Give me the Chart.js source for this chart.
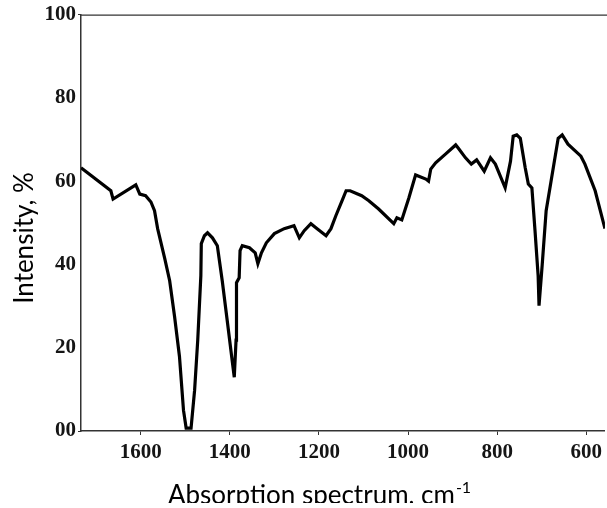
<!DOCTYPE html>
<html>
<head>
<meta charset="utf-8">
<script src="https://cdn.jsdelivr.net/npm/chart.js@4.4.1/dist/chart.umd.min.js"></script>
<style>
  html, body { margin: 0; padding: 0; background: #ffffff; }
  #wrap { width: 607px; height: 508px; position: relative; overflow: hidden; }
  canvas { display: block; }
</style>
</head>
<body>
<div id="wrap"><canvas id="c" width="607" height="508"></canvas></div>
<script>
// Wavenumbers (cm-1)
const wavenumbers = [1734,1667,1662,1611,1602,1589,1577,1569,1562,1546,1535,1524,1513,1504,1498,1487,1479,1472,1465,1464,1457,1450,1439,1428,1417,1405,1394,1390,1386,1385,1379,1377,1372,1356,1343,1337,1329,1318,1300,1278,1256,1244,1233,1218,1204,1184,1173,1162,1148,1139,1130,1104,1088,1066,1032,1025,1014,998,983,960,954,949,938,916,893,887,871,858,846,829,815,804,782,770,764,756,748,737,730,722,715,708,706,699,690,679,663,654,641,612,603,580,558];
// Intensity (%)
const intensity = [63.2,57.7,55.7,59.1,56.9,56.5,55.0,52.9,48.6,41.4,36.1,27.5,17.9,5.0,0.7,0.7,9.8,21.8,37.3,45.0,46.9,47.6,46.4,44.5,36.1,25.8,16.3,12.9,21.8,35.6,36.8,43.3,44.5,44.0,42.8,40.2,42.8,45.2,47.4,48.6,49.3,46.4,48.1,49.8,48.6,46.9,48.6,51.7,55.3,57.7,57.7,56.5,55.3,53.3,49.8,51.2,50.7,56.0,61.5,60.5,60.0,62.9,64.4,66.5,68.7,67.9,65.6,64.1,65.1,62.4,65.6,64.1,58.4,64.8,70.8,71.1,70.3,63.2,59.3,58.4,48.1,37.3,30.1,39.7,52.9,60.0,70.3,71.1,68.9,66.0,64.1,57.7,48.6];
// Axis tick values
const xTicks = [1600,1400,1200,1000,800,600];
const yTicks = [0,20,40,60,80,100];
const xTitle = "Absorption spectrum, cm";
const xTitleSup = "-1";
const yTitle = "Intensity, %";

const points = wavenumbers.map((w, i) => ({ x: w, y: intensity[i] }));

const titlesPlugin = {
  id: 'titles',
  afterDraw(chart) {
    const ctx = chart.ctx;
    const a = chart.chartArea;
    ctx.save();
    // top frame line
    ctx.strokeStyle = '#333333';
    ctx.lineWidth = 1.2;
    ctx.beginPath();
    ctx.moveTo(a.left, a.top + 0.5);
    ctx.lineTo(chart.width, a.top + 0.5);
    ctx.stroke();
    ctx.restore();

    // x title (bottom of the picture cuts it, as in the reference)
    ctx.save();
    ctx.beginPath();
    ctx.rect(0, 0, chart.width, 503);
    ctx.clip();
    ctx.fillStyle = '#000000';
    ctx.font = '26px Lato';
    ctx.textBaseline = 'alphabetic';
    ctx.textAlign = 'left';
    const w = ctx.measureText(xTitle).width;
    const x0 = 168;
    ctx.fillText(xTitle, x0, 504);
    ctx.font = '16px Lato';
    ctx.fillText(xTitleSup, x0 + w + 1, 493);
    ctx.restore();

    // y title
    ctx.save();
    ctx.fillStyle = '#000000';
    ctx.translate(33, 238);
    ctx.rotate(-Math.PI / 2);
    ctx.font = '26px Lato';
    ctx.textAlign = 'center';
    ctx.textBaseline = 'alphabetic';
    ctx.fillText(yTitle, 0, 0);
    ctx.restore();
  }
};

new Chart(document.getElementById('c'), {
  type: 'scatter',
  data: {
    datasets: [{
      data: points,
      showLine: true,
      borderColor: '#000000',
      borderWidth: 3.2,
      pointRadius: 0,
      tension: 0,
      fill: false
    }]
  },
  options: {
    responsive: false,
    animation: false,
    layout: { padding: { top: 13, right: 0, left: 0, bottom: 0 } },
    plugins: { legend: { display: false }, tooltip: { enabled: false } },
    scales: {
      x: {
        type: 'linear',
        reverse: true,
        min: wavenumbers[wavenumbers.length - 1],
        max: wavenumbers[0],
        afterFit(scale) { scale.height = 77; },
        afterBuildTicks(scale) { scale.ticks = xTicks.map(v => ({ value: v })); },
        ticks: {
          includeBounds: false,
          autoSkip: false,
          maxRotation: 0,
          padding: 5,
          color: '#151515',
          font: { family: 'Liberation Serif', weight: 'bold', size: 21 },
          callback: v => String(v)
        },
        grid: { drawOnChartArea: false, tickLength: 4, color: '#333333' },
        border: { color: '#333333', width: 1.5 }
      },
      y: {
        type: 'linear',
        min: 0,
        max: 100,
        afterFit(scale) { scale.width = 81; },
        afterBuildTicks(scale) { scale.ticks = yTicks.map(v => ({ value: v })); },
        ticks: {
          padding: 2,
          color: '#151515',
          font: { family: 'Liberation Serif', weight: 'bold', size: 21 },
          callback: v => (v === 0 ? '00' : String(v))
        },
        grid: {
          drawOnChartArea: false,
          tickLength: 3,
          color: ctx => (ctx.tick && (ctx.tick.value === 0 || ctx.tick.value === 100)) ? '#333333' : 'rgba(0,0,0,0)'
        },
        border: { color: '#333333', width: 1.5 }
      }
    }
  },
  plugins: [titlesPlugin]
});
</script>
</body>
</html>
